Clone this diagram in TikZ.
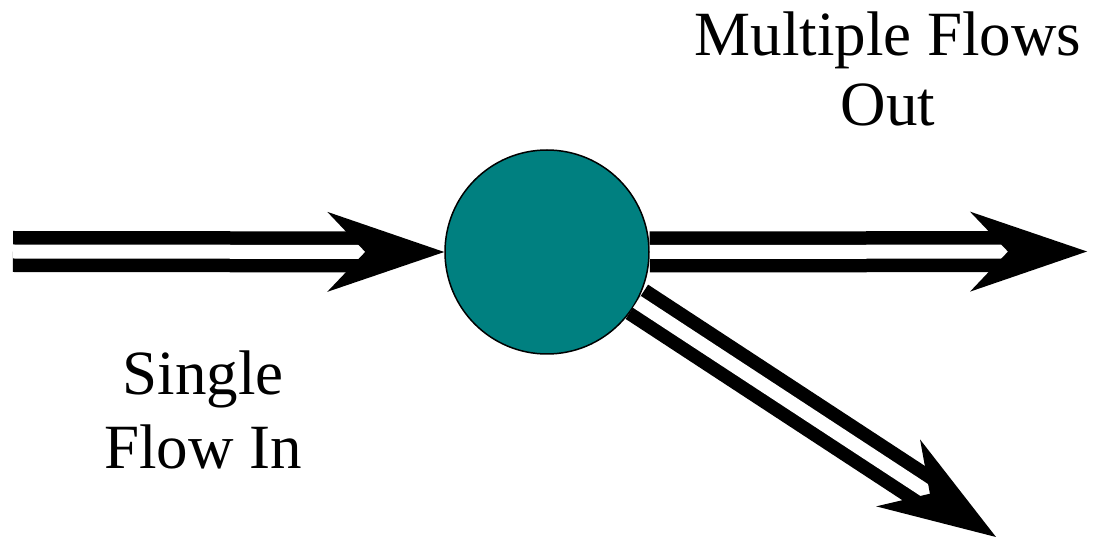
\documentclass[tikz,border=0pt]{standalone}
\usepackage{fontspec}
\setmainfont{Liberation Serif}
\newfontfamily\labelfont{Liberation Serif}
\usetikzlibrary{arrows.meta}
\definecolor{flowteal}{RGB}{0,128,128}

\begin{document}
\begin{tikzpicture}[x=1pt,y=-1pt,
    flow/.style={line width=13.5pt,double=white,double distance=14pt,
      -{Stealth[length=117pt,width=80pt,inset=38pt,line width'=0pt]}},
    label/.style={inner sep=0pt,align=center,font=\labelfont\fontsize{63}{70}\selectfont}]
  \useasboundingbox (0,0) rectangle (1093,537);

  \node[circle,draw,line width=1.5pt,fill=flowteal,minimum size=204pt,inner sep=0pt] (c) at (547,252) {};
  \coordinate (in) at (13,251.5);
  \coordinate (out1) at (1087,251.5);
  \coordinate (out2) at (996,537);

  \draw[flow] (in) -- (c.west);
  \draw[flow] (c.east) -- (out1);
  \draw[flow] (c.-29) -- (out2);

  \node[label] (multi) at (888,68.5) {Multiple Flows\\Out};
  \node[label,font=\labelfont\fontsize{63}{73.5}\selectfont] (single) at (203,410) {Single\\Flow In};
\end{tikzpicture}
\end{document}
